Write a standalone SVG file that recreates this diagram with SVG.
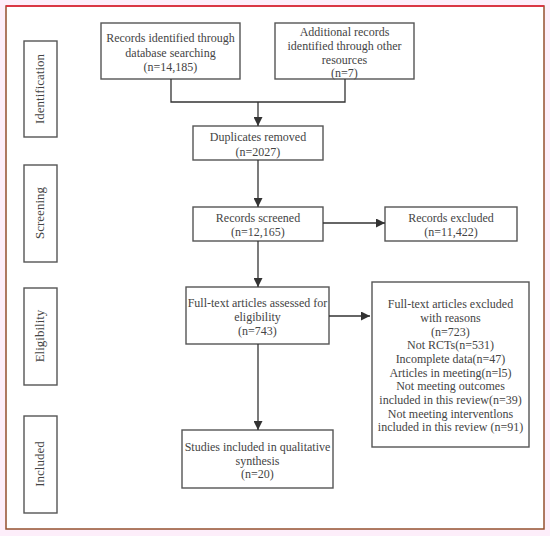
<svg xmlns="http://www.w3.org/2000/svg" width="550" height="536" viewBox="0 0 550 536">
<style>
.box{fill:#fff;stroke:#555;stroke-width:1.4}
.t{font-family:"Liberation Serif","Times New Roman",serif;font-size:12px;fill:#444;text-anchor:middle}
.s{font-family:"Liberation Serif","Times New Roman",serif;font-size:13px;fill:#444;text-anchor:middle}
.c{fill:none;stroke:#333;stroke-width:1.3}
</style>
<defs>
<marker id="ah" viewBox="0 0 10 10" refX="10" refY="5" markerWidth="9" markerHeight="9" markerUnits="userSpaceOnUse" orient="auto">
<path d="M0,0 L10,5 L0,10 z" fill="#333"/>
</marker>
</defs>
<rect x="0" y="0" width="550" height="536" fill="#fdeefa"/>
<rect x="6" y="6" width="538" height="523" fill="#fff" stroke="#94502f" stroke-width="1.5"/>
<line x1="6" y1="6" x2="544" y2="6" stroke="#e8203c" stroke-width="1.5"/>

<g id="side-identification"><rect class="box" x="24" y="41" width="33" height="96"/><text class="s" transform="translate(44,89) rotate(-90)">Identification</text></g>
<g id="side-screening"><rect class="box" x="24" y="165" width="33" height="97"/><text class="s" transform="translate(44,213) rotate(-90)">Screening</text></g>
<g id="side-eligibility"><rect class="box" x="24" y="288" width="33" height="97"/><text class="s" transform="translate(44,336) rotate(-90)">Eligibility</text></g>
<g id="side-included"><rect class="box" x="24" y="416" width="33" height="97"/><text class="s" transform="translate(44,464) rotate(-90)">Included</text></g>

<g id="records-identified"><rect class="box" x="101" y="23" width="139" height="56"/>
<text class="t" x="170.5" y="42">Records identified through</text>
<text class="t" x="170.5" y="57">database searching</text>
<text class="t" x="170.5" y="71">(n=14,185)</text></g>

<g id="additional-records"><rect class="box" x="275" y="23" width="139" height="56"/>
<text class="t" x="344.5" y="36">Additional records</text>
<text class="t" x="344.5" y="50">identified through other</text>
<text class="t" x="344.5" y="64">resources</text>
<text class="t" x="344.5" y="77">(n=7)</text></g>

<g id="duplicates"><rect class="box" x="193" y="126" width="130" height="34"/>
<text class="t" x="258" y="141">Duplicates removed</text>
<text class="t" x="258" y="156">(n=2027)</text></g>

<g id="screened"><rect class="box" x="193" y="207" width="130" height="34"/>
<text class="t" x="258" y="222">Records screened</text>
<text class="t" x="258" y="236">(n=12,165)</text></g>

<g id="excluded"><rect class="box" x="385" y="207" width="132" height="34"/>
<text class="t" x="451" y="222">Records excluded</text>
<text class="t" x="451" y="236">(n=11,422)</text></g>

<g id="fulltext"><rect class="box" x="186" y="287" width="143" height="57"/>
<text class="t" x="257.5" y="307">Full-text articles assessed for</text>
<text class="t" x="257.5" y="321">eligibility</text>
<text class="t" x="257.5" y="335">(n=743)</text></g>

<g id="fulltext-excluded"><rect class="box" x="372" y="282" width="157" height="165"/>
<text class="t" x="450.5" y="308">Full-text articles excluded</text>
<text class="t" x="450.5" y="322">with reasons</text>
<text class="t" x="450.5" y="336">(n=723)</text>
<text class="t" x="450.5" y="349">Not RCTs(n=531)</text>
<text class="t" x="450.5" y="363">Incomplete data(n=47)</text>
<text class="t" x="450.5" y="377">Articles in meeting(n=l5)</text>
<text class="t" x="450.5" y="390">Not meeting outcomes</text>
<text class="t" x="450.5" y="404">included in this review(n=39)</text>
<text class="t" x="450.5" y="418">Not meeting interventlons</text>
<text class="t" x="450.5" y="431">included in this review (n=91)</text></g>

<g id="studies-included"><rect class="box" x="182" y="430" width="151" height="58"/>
<text class="t" x="257.5" y="451">Studies included in qualitative</text>
<text class="t" x="257.5" y="465">synthesis</text>
<text class="t" x="257.5" y="478">(n=20)</text></g>

<g id="connectors">
<polyline class="c" points="171,79 171,102 345,102 345,79"/>
<line class="c" x1="258" y1="102" x2="258" y2="126" marker-end="url(#ah)"/>
<line class="c" x1="258" y1="160" x2="258" y2="207" marker-end="url(#ah)"/>
<line class="c" x1="323" y1="223" x2="385" y2="223" marker-end="url(#ah)"/>
<line class="c" x1="258" y1="241" x2="258" y2="287" marker-end="url(#ah)"/>
<line class="c" x1="329" y1="316" x2="370" y2="316" marker-end="url(#ah)"/>
<line class="c" x1="258" y1="344" x2="258" y2="430" marker-end="url(#ah)"/>
</g>
</svg>
